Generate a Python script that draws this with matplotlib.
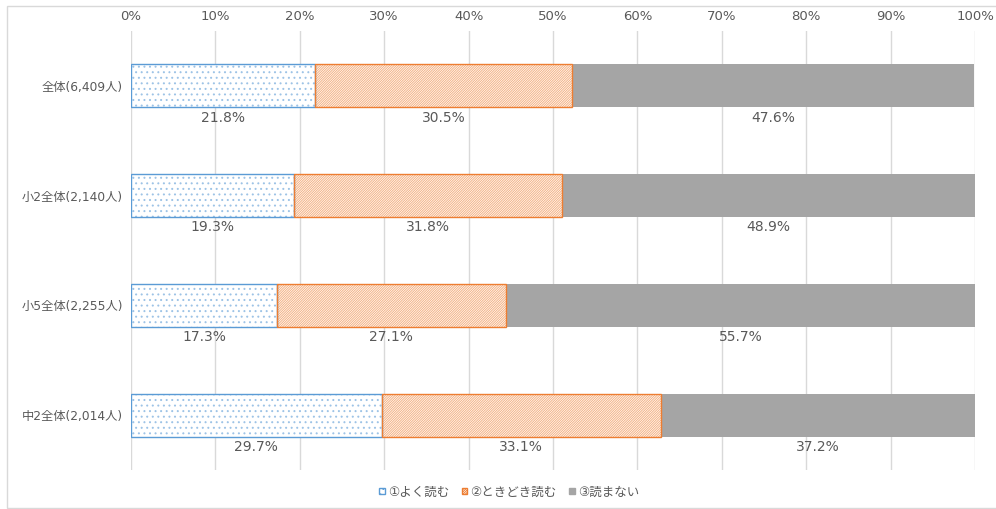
import matplotlib
matplotlib.use("Agg")
import matplotlib.pyplot as plt
from matplotlib.patches import Patch, Rectangle
from matplotlib.ticker import PercentFormatter

plt.rcParams["font.family"] = ["DejaVu Sans", "Noto Sans CJK JP"]
plt.rcParams["hatch.linewidth"] = 0.7

categories = ["全体(6,409人)", "小2全体(2,140人)", "小5全体(2,255人)", "中2全体(2,014人)"]
series_names = ["①よく読む", "②ときどき読む", "③読まない"]
often = [21.8, 19.3, 17.3, 29.7]
sometimes = [30.5, 31.8, 27.1, 33.1]
never = [47.6, 48.9, 55.7, 37.2]

TEXT = "#595959"
GRID = "#D9D9D9"
BLUE = "#5B9BD5"
ORANGE = "#ED7D31"
GRAY = "#A5A5A5"

fig = plt.figure(figsize=(9.96, 5.09), dpi=100)
fig.patches.append(Rectangle((7 / 996, 1 / 509), 995 / 996, 502 / 509,
                             transform=fig.transFigure, fill=False,
                             edgecolor=GRID, linewidth=1.0))
ax = fig.add_axes([131 / 996, 1 - 470 / 509, 844 / 996, 439 / 509])

y = list(range(len(categories)))
h = 0.39
# (fill, hatch colour, hatch, outline)
styles = [
    ("white", "#9DC3E6", "...", BLUE),
    ("white", "#F4B183", "/" * 14, ORANGE),
    (GRAY, None, None, None),
]

left = [0.0] * len(categories)
for vals, (fc, hc, hatch, oc) in zip([often, sometimes, never], styles):
    if hatch:
        ax.barh(y, vals, left=left, height=h, color=fc, edgecolor=hc,
                hatch=hatch, linewidth=0, zorder=2)
        ax.barh(y, vals, left=left, height=h, fill=False, edgecolor=oc,
                linewidth=1.0, zorder=2.5)
    else:
        ax.barh(y, vals, left=left, height=h, color=fc, linewidth=0, zorder=2)
    for i, v in enumerate(vals):
        ax.text(left[i] + v / 2, y[i] + h / 2 + 0.03, f"{v:.1f}%",
                ha="center", va="top", fontsize=10, color=TEXT, zorder=3)
    left = [l + v for l, v in zip(left, vals)]

ax.set_xlim(0, 100)
ax.set_ylim(len(categories) - 0.5, -0.5)
ax.set_xticks(range(0, 101, 10))
ax.xaxis.set_major_formatter(PercentFormatter(decimals=0))
ax.xaxis.tick_top()
ax.tick_params(axis="x", length=0, pad=6, labelsize=9.5, labelcolor=TEXT)
ax.tick_params(axis="y", length=0, pad=6, labelsize=8.8, labelcolor=TEXT)
ax.set_yticks(y)
ax.set_yticklabels(categories)
ax.grid(axis="x", color=GRID, linewidth=1.0, zorder=0)
ax.set_axisbelow(True)
for s in ax.spines.values():
    s.set_visible(False)

handles = [Patch(facecolor=fc, edgecolor=oc if oc else GRAY, hatch=hatch, linewidth=1.0)
           for fc, hc, hatch, oc in styles]
fig.legend(handles, series_names, loc="center", bbox_to_anchor=(509 / 996, 1 - 492 / 509),
           ncol=3, frameon=False, fontsize=9, handlelength=0.45, handleheight=0.45,
           handletextpad=0.25, columnspacing=1.0, labelcolor=TEXT)

fig.savefig("out.png", dpi=100)
